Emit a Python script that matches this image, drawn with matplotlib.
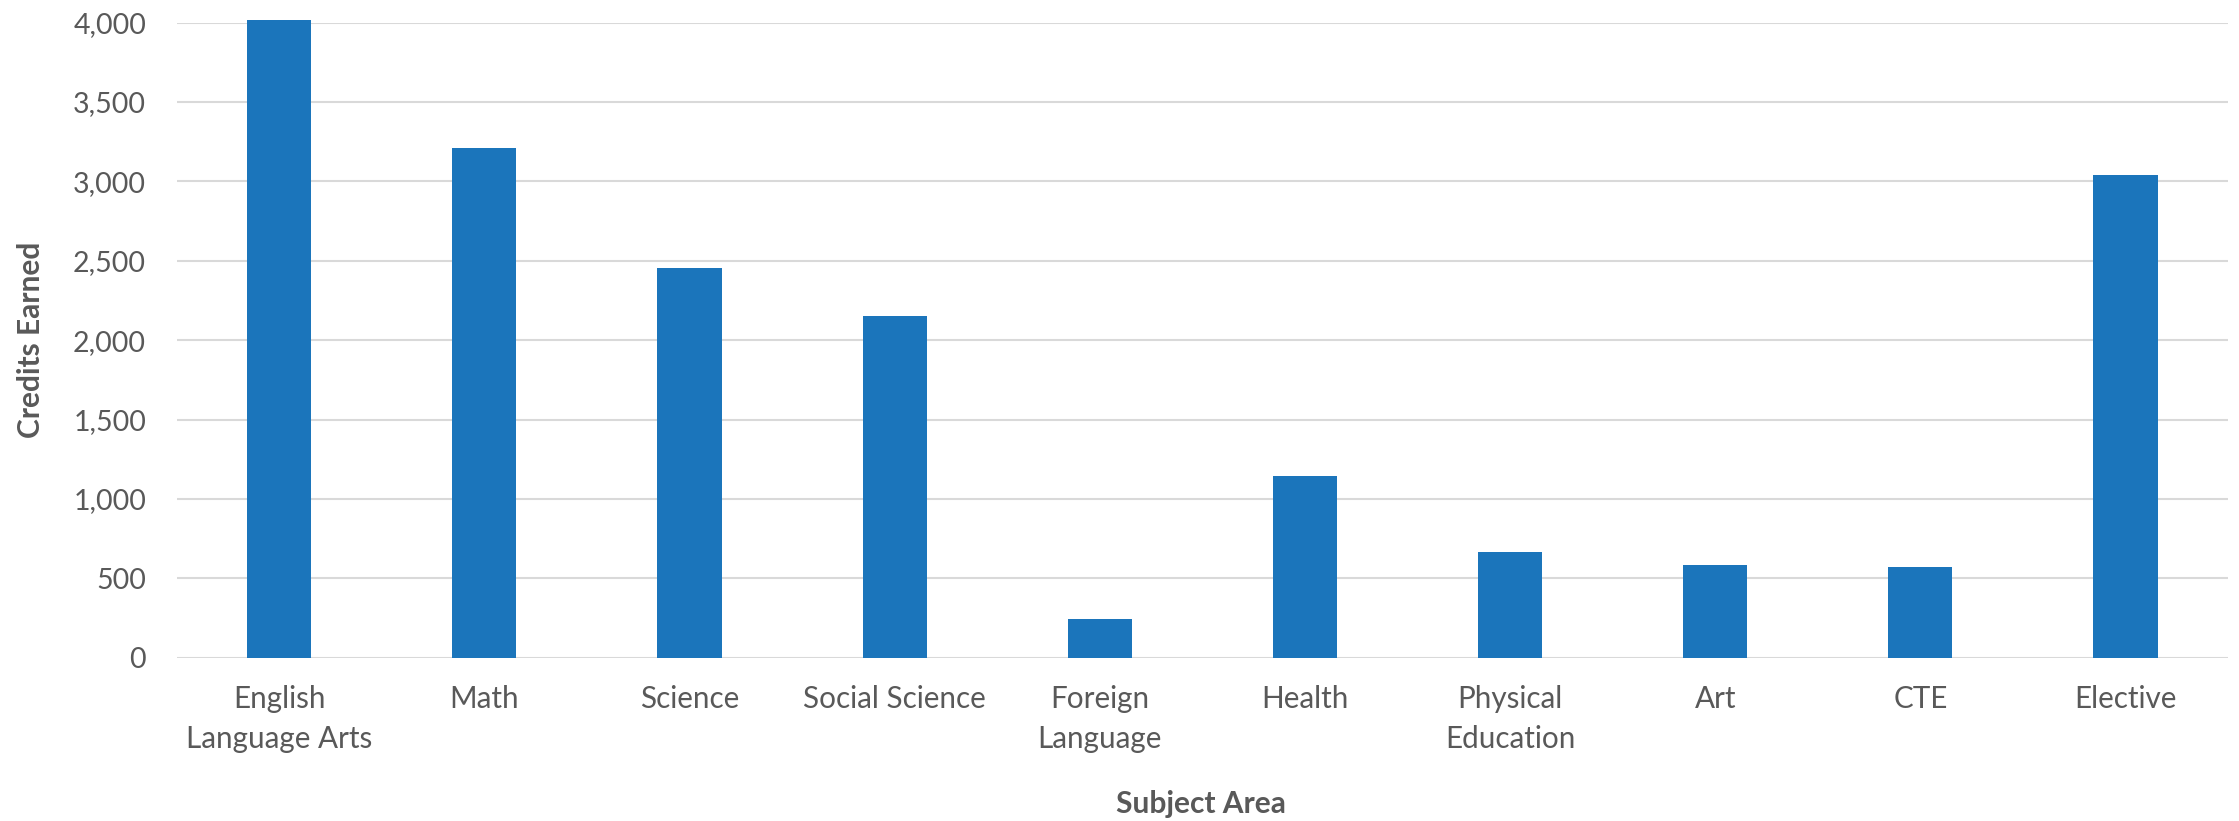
import matplotlib
matplotlib.use("Agg")
import matplotlib.pyplot as plt
from matplotlib.ticker import FuncFormatter, MultipleLocator

categories = ["English\nLanguage Arts", "Math", "Science", "Social Science",
              "Foreign\nLanguage", "Health", "Physical\nEducation", "Art", "CTE", "Elective"]
credits = [4017, 3209, 2455, 2155, 242, 1145, 666, 582, 571, 3041]

plt.rcParams['font.family'] = ['Lato', 'DejaVu Sans']
text_color = '#595959'

fig = plt.figure(figsize=(22.39, 8.21), dpi=100)
ax = fig.add_axes([0.0789, 0.1989, 0.9162, 0.7735])

x = range(len(categories))
bars = ax.bar(x, credits, width=0.313, color='#1b75bb', zorder=3)
for b in bars:
    b.set_clip_on(False)

ax.set_xlim(-0.5, len(categories) - 0.5)
ax.set_ylim(0, 4000)
ax.yaxis.set_major_locator(MultipleLocator(500))
ax.yaxis.set_major_formatter(FuncFormatter(lambda v, p: f"{int(v):,}"))
ax.grid(axis='y', color='#d9d9d9', linewidth=1.5, zorder=0)
ax.set_axisbelow(True)
for s in ax.spines.values():
    s.set_visible(False)

ax.set_xticks(list(x))
ax.set_xticklabels(categories, fontsize=21.3, color=text_color, linespacing=1.5)
ax.tick_params(axis='x', length=0, pad=20)
ax.tick_params(axis='y', length=0, pad=22, labelsize=20.5, labelcolor=text_color)

fig.text(0.0138, 0.5856, "Credits Earned", rotation=90, ha='center', va='center',
         fontsize=21.5, fontweight='bold', color=text_color)
fig.text(0.5365, 1 - 804 / 821, "Subject Area", ha='center', va='center',
         fontsize=21.5, fontweight='bold', color=text_color)

fig.savefig("out.png", dpi=100)
